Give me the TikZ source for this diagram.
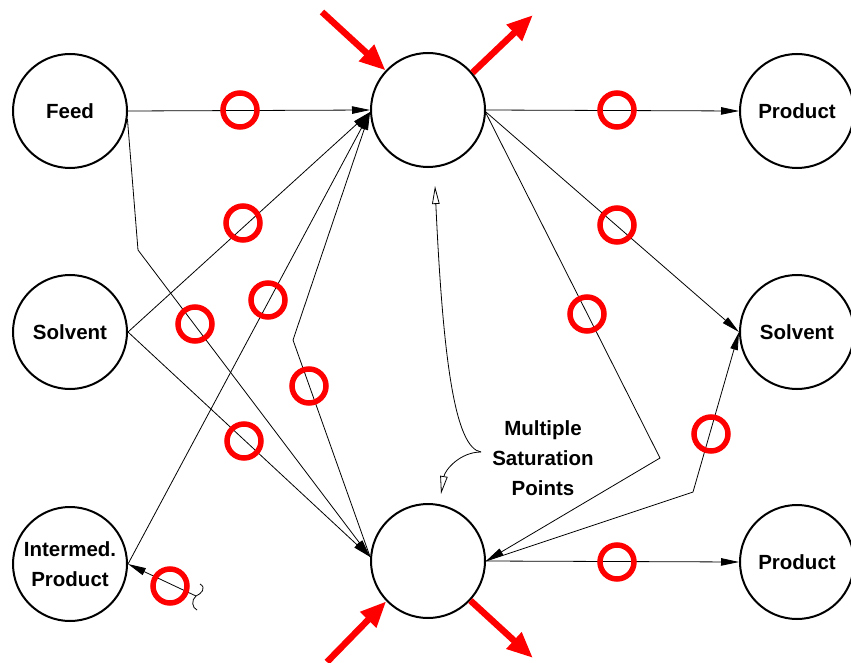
\documentclass[tikz,border=0pt]{standalone}
\usepackage{fontspec}
\setmainfont{Liberation Sans}
\usetikzlibrary{arrows.meta}
\tikzset{
  unit/.style={circle, draw, line width=2pt, minimum size=114pt, inner sep=0pt,
    align=center, font=\fontsize{20.5}{30}\selectfont\bfseries},
  conn/.style={line width=0.8pt, -{Triangle[length=18pt,width=7.5pt]}},
  plain/.style={line width=0.8pt},
  ring/.style={circle, draw=red, line width=5.5pt, minimum size=34pt, inner sep=0pt},
  flowarrow/.style={draw=red, line width=6.5pt, -{Triangle[length=26pt,width=21pt]}},
  pointer/.style={line width=0.8pt, -{Triangle[open,length=18pt,width=7.5pt,fill=white]}},
  note/.style={align=center, font=\fontsize{20.5}{30}\selectfont\bfseries}
}
\begin{document}
\begin{tikzpicture}[x=1pt,y=-1pt]
  \useasboundingbox (0,0) rectangle (851,663);

  % process units
  \node[unit] (feed)   at (70,111)  {Feed};
  \node[unit] (solvL)  at (70,332)  {Solvent};
  \node[unit] (interm) at (70,564)  {Intermed.\\Product};
  \node[unit] (top)    at (428,110) {};
  \node[unit] (bot)    at (428,561) {};
  \node[unit] (prodT)  at (797,111) {Product};
  \node[unit] (solvR)  at (797,332) {Solvent};
  \node[unit] (prodB)  at (797,562) {Product};

  % bend points and free ends
  \coordinate (k1) at (138,250);
  \coordinate (k2) at (293,340);
  \coordinate (k3) at (660,458);
  \coordinate (k4) at (693,492);
  \coordinate (brk) at (196,596);

  % stream connections
  \draw[conn] (feed.east) -- (top.west);
  \draw[conn] (feed.-8) -- (k1) -- (bot.176);
  \draw[conn] (solvL.east) -- (top.182);
  \draw[conn] (solvL.east) -- (bot.176);
  \draw[conn] (interm.east) -- (top.182);
  \draw[conn] (bot.176) -- (k2) -- (top.182);
  \draw[conn] (brk) -- (interm.east);
  \draw[conn] (top.east) -- (prodT.west);
  \draw[conn] (top.-2) -- (solvR.west);
  \draw[conn] (top.-3) -- (k3) -- (bot.east);
  \draw[conn] (bot.east) -- (k4) -- (solvR.west);
  \draw[conn] (bot.east) -- (prodB.west);

  % break mark on the recycle stream
  \draw[plain] (200,584) .. controls (207,588) and (201,594) .. (brk)
               .. controls (191,600) and (192,608) .. (197,610);

  % stream markers
  \foreach \n/\p in {r1/{(240,110)}, r2/{(617,110)}, r3/{(243,223)},
                     r4/{(195,324)}, r5/{(268,300)}, r6/{(309,386)},
                     r7/{(244,441)}, r8/{(617,225)}, r9/{(587,314)},
                     r10/{(711,434)}, r11/{(617,562)}, r12/{(170,586)}}
    \node[ring] (\n) at \p {};

  % external flows
  \coordinate (inT)  at (322,12);
  \coordinate (outT) at (533,15);
  \coordinate (inB)  at (327,662);
  \coordinate (outB) at (533,658);
  \draw[flowarrow] (inT) -- (top.137);
  \draw[flowarrow] (top.40) -- (outT);
  \draw[flowarrow] (inB) -- (bot.224);
  \draw[flowarrow] (bot.-43) -- (outB);

  % annotation
  \node[note] (msp) at (543,458) {Multiple\\Saturation\\Points};
  \coordinate (ptr) at (481,452);
  \draw[pointer] (ptr) .. controls (455,448) and (443,360) .. (435,186);
  \draw[pointer] (ptr) .. controls (460,452) and (445,470) .. (441,494);
\end{tikzpicture}
\end{document}
